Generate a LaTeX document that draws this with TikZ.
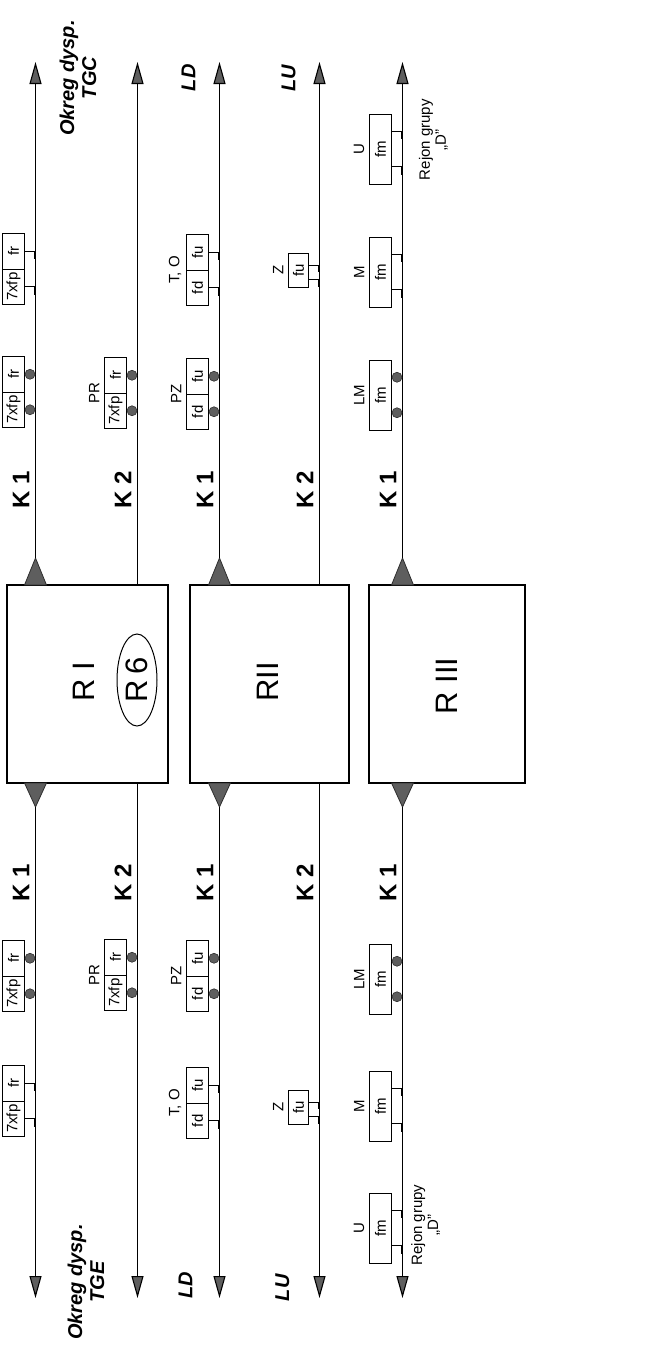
\documentclass[tikz,border=0pt]{standalone}
\usepackage{fontspec}
\setmainfont{Liberation Sans}
\usetikzlibrary{arrows.meta,shapes.geometric,calc}
\definecolor{tgray}{HTML}{5E5E5E}
\definecolor{dgray}{HTML}{2E2E2E}
\newcommand{\relfont}{\fontsize{15}{17}\selectfont}
\newcommand{\Kfont}{\fontsize{24}{24}\selectfont\bfseries}
\newcommand{\Rfont}{\fontsize{31}{31}\selectfont}
\newcommand{\sidefont}{\fontsize{20}{22}\selectfont\bfseries\itshape}
% two-cell relay group: name, centre x, centre y, top text, bottom text
\newcommand{\pairbox}[5]{%
  \node[cell] (#1t) at (#2,#3-17.75) {#4};
  \node[cell] (#1b) at (#2,#3+17.75) {#5};}
\newcommand{\pairdots}[1]{%
  \filldraw[dotc] ($(#1t.south)+(5,0)$) circle[radius=5pt];
  \filldraw[dotc] ($(#1b.south)+(5,0)$) circle[radius=5pt];}
\newcommand{\pairbrk}[1]{%
  \draw[brk] (#1t.south) -- ++(9,0) -- ++(0,8);
  \draw[brk] (#1b.south) -- ++(9,0) -- ++(0,8);}
% single fm box: name, centre x, centre y
\newcommand{\fmbox}[3]{%
  \node[cell, minimum width=70pt] (#1) at (#2,#3) {fm};}
\newcommand{\fmdots}[1]{%
  \filldraw[dotc] ($(#1.south east)!0.25!(#1.south west)+(5,0)$) circle[radius=5pt];
  \filldraw[dotc] ($(#1.south east)!0.75!(#1.south west)+(5,0)$) circle[radius=5pt];}
\newcommand{\fmbrk}[1]{%
  \draw[brk] ($(#1.south east)!0.25!(#1.south west)$) -- ++(9,0) -- ++(0,8);
  \draw[brk] ($(#1.south east)!0.75!(#1.south west)$) -- ++(9,0) -- ++(0,8);}
% single fu box (Z): name, centre x, centre y
\newcommand{\zbox}[3]{%
  \node[cell, minimum width=34pt, minimum height=20pt] (#1) at (#2,#3) {fu};
  \draw[brk] ($(#1.south)+(0,-5)$) -- ++(9,0) -- ++(0,7);
  \draw[brk] ($(#1.south)+(0,9.5)$) -- ++(9,0) -- ++(0,7);}
\begin{document}
\begin{tikzpicture}[x=1pt,y=-1pt,
  sig/.style={line width=1.1pt, draw=black},
  endtip/.style={-{Triangle[length=22pt,width=12pt,fill=tgray]}},
  rbox/.style={draw, line width=1.8pt, inner sep=0pt},
  tri/.style={fill=tgray, draw=dgray, line width=0.8pt},
  cell/.style={draw, line width=1pt, rotate=90, minimum width=35.5pt,
    minimum height=22pt, inner sep=0pt, font=\relfont},
  lbl/.style={rotate=90, anchor=south, inner sep=0pt, font=\relfont},
  klbl/.style={rotate=90, inner sep=0pt, font=\Kfont},
  side/.style={rotate=90, inner sep=0pt, align=center, font=\sidefont},
  rej/.style={rotate=90, inner sep=0pt, align=center, font=\fontsize{15}{16}\selectfont},
  rtxt/.style={rotate=90, inner sep=0pt, font=\Rfont},
  dotc/.style={fill=tgray, draw=dgray, line width=0.6pt},
  brk/.style={line width=1pt},
]
\useasboundingbox (0,0) rectangle (667,1358);

% main boxes
\node[rbox, minimum width=161pt, minimum height=198pt] (RI) at (87.5,684) {};
\node[rbox, minimum width=159pt, minimum height=198pt] (RII) at (269.5,684) {};
\node[rbox, minimum width=156pt, minimum height=198pt] (RIII) at (447,684) {};
\node[rtxt] (tRI) at (84,682) {R I};
\node[draw, ellipse, rotate=90, minimum width=92pt, minimum height=40pt,
  inner sep=0pt, line width=1pt, font=\Rfont] (r6) at (137,680) {R\,6};
\node[rtxt] (tRII) at (268,682) {RII};
\node[rtxt] (tRIII) at (447,686) {R III};

% line end points
\foreach \n/\x in {1/35.5,2/137.5,3/219.5,4/319.5,5/402.5}{
  \coordinate (top\n) at (\x,62);
  \coordinate (bot\n) at (\x,1298);
}
% K1 lines with triangles on the boxes
\foreach \n/\x in {1/35.5,3/219.5,5/402.5}{
  \coordinate (up\n) at (\x,558);
  \coordinate (dn\n) at (\x,807);
  \filldraw[tri] (\x-11,585) -- (\x+11,585) -- (up\n) -- cycle;
  \filldraw[tri] (\x-11,783) -- (\x+11,783) -- (dn\n) -- cycle;
  \draw[sig,endtip] (up\n) -- (top\n);
  \draw[sig,endtip] (dn\n) -- (bot\n);
}
% K2 lines
\draw[sig,endtip] (RI.north -| top2) -- (top2);
\draw[sig,endtip] (RI.south -| bot2) -- (bot2);
\draw[sig,endtip] (RII.north -| top4) -- (top4);
\draw[sig,endtip] (RII.south -| bot4) -- (bot4);

% K labels
\foreach \x/\t in {21/K 1,123/K 2,205/K 1,305/K 2,388/K 1}{
  \node[klbl] at (\x,490) {\t};
  \node[klbl] at (\x,883) {\t};
}

% side labels
\node[side] (tgc) at (78,78) {Okreg dysp.\\TGC};
\node[side] (tge) at (86,1282) {Okreg dysp.\\TGE};
\node[side] (ld1) at (188.6,77.7) {LD};
\node[side] (ld2) at (185.4,1285) {LD};
\node[side] (lu1) at (288.7,78.5) {LU};
\node[side] (lu2) at (282.4,1287.7) {LU};
\node[rej] (rej1) at (433.4,139.7) {Rejon grupy\\„D”};
\node[rej] (rej2) at (425.7,1225) {Rejon grupy\\„D”};

% ---- upper relay groups ----
\pairbox{ga}{13.5}{269}{fr}{7xfp} \pairbrk{ga}
\pairbox{gb}{13.5}{392}{fr}{7xfp} \pairdots{gb}
\pairbox{pra}{115.5}{393}{fr}{7xfp} \pairdots{pra}
\node[lbl] (lpra) at (99.5,393) {PR};
\pairbox{toa}{197.5}{270}{fu}{fd} \pairbrk{toa}
\node[lbl] (ltoa) at (181.5,270) {T, O};
\pairbox{pza}{197.5}{394}{fu}{fd} \pairdots{pza}
\node[lbl] (lpza) at (181.5,394) {PZ};
\zbox{za}{298.5}{270}
\node[lbl] (lza) at (283.5,270) {Z};
\fmbox{ua}{380.5}{149} \fmbrk{ua}
\node[lbl] (lua) at (364.5,149) {U};
\fmbox{ma}{380.5}{272} \fmbrk{ma}
\node[lbl] (lma) at (364.5,272) {M};
\fmbox{lma}{380.5}{395} \fmdots{lma}
\node[lbl] (llma) at (364.5,395) {LM};

% ---- lower relay groups ----
\pairbox{gc}{13.5}{976}{fr}{7xfp} \pairdots{gc}
\pairbox{gd}{13.5}{1101}{fr}{7xfp} \pairbrk{gd}
\pairbox{prb}{115.5}{975}{fr}{7xfp} \pairdots{prb}
\node[lbl] (lprb) at (99.5,975) {PR};
\pairbox{pzb}{197.5}{976}{fu}{fd} \pairdots{pzb}
\node[lbl] (lpzb) at (181.5,976) {PZ};
\pairbox{tob}{197.5}{1103}{fu}{fd} \pairbrk{tob}
\node[lbl] (ltob) at (181.5,1103) {T, O};
\zbox{zb}{298.5}{1107}
\node[lbl] (lzb) at (283.5,1107) {Z};
\fmbox{lmb}{380.5}{979} \fmdots{lmb}
\node[lbl] (llmb) at (364.5,979) {LM};
\fmbox{mb}{380.5}{1106} \fmbrk{mb}
\node[lbl] (lmb) at (364.5,1106) {M};
\fmbox{ub}{380.5}{1228} \fmbrk{ub}
\node[lbl] (lub) at (364.5,1228) {U};
\end{tikzpicture}
\end{document}
